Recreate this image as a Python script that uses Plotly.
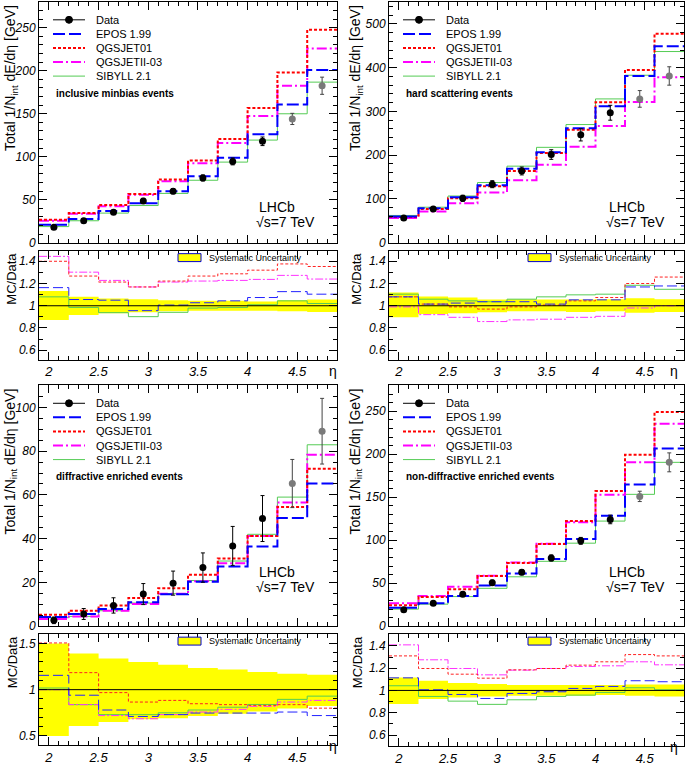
import plotly.graph_objects as go

W, H = 685, 769
FONT = "Liberation Sans, Arial, Helvetica, sans-serif"

# eta binning
edges = [1.9, 2.2, 2.5, 2.8, 3.1, 3.4, 3.7, 4.0, 4.3, 4.6, 4.9]
centers = [(a + b) / 2 for a, b in zip(edges[:-1], edges[1:])]
models = ["EPOS 1.99", "QGSJET01", "QGSJETII-03", "SIBYLL 2.1"]

# inclusive minbias events
mb_data = [18, 25.6, 35.6, 48.6, 60, 75.4, 94.6, 118, 144, 182.6]
mb_err = [1.5, 2, 2.5, 3, 3, 3.5, 4, 5, 6.5, 10]
mb_epos = [21, 27.6, 37, 46, 60, 77.3, 98.8, 126.3, 160.8, 201]
mb_q01 = [26.8, 34.5, 44, 56.7, 73.5, 95.7, 120.6, 156.6, 198, 247.7]
mb_q2 = [25.6, 33.7, 42.5, 55.9, 71.6, 92.6, 116, 147.4, 182.6, 225.9]
mb_sib = [18.8, 25.6, 34.5, 43.3, 57.4, 72.7, 93.8, 119.4, 150, 186.8]
mb_r_epos = [1.163, 1.056, 1.05, 0.956, 1.006, 1.027, 1.044, 1.074, 1.127, 1.104]
mb_r_q01 = [1.40, 1.267, 1.213, 1.169, 1.222, 1.267, 1.287, 1.32, 1.376, 1.353]
mb_r_q2 = [1.444, 1.302, 1.228, 1.169, 1.213, 1.222, 1.228, 1.237, 1.273, 1.24]
mb_r_sib = [1.08, 0.985, 0.938, 0.902, 0.941, 0.979, 0.985, 1.009, 1.044, 1.02]
mb_sys_hi = [1.133, 1.080, 1.065, 1.059, 1.050, 1.044, 1.044, 1.039, 1.050, 1.056]
mb_sys_lo = [0.873, 0.917, 0.932, 0.941, 0.950, 0.956, 0.956, 0.956, 0.950, 0.944]

# hard scattering events
hs_data = [56.4, 77.4, 101.5, 133.8, 164, 201.5, 246.6, 297, 328.6, 381]
hs_err = [4, 5, 7, 8, 9, 11, 14, 17, 19, 21]
hs_epos = [60, 79, 103.8, 131.6, 169, 206.8, 261.7, 312, 381, 448.9]
hs_q01 = [58.6, 77.4, 101.5, 129.3, 164, 205, 257.9, 321, 394.7, 477.4]
hs_q2 = [56.4, 71.4, 90.2, 115, 142.9, 178, 219.5, 267, 321.8, 378]
hs_sib = [62.4, 81.2, 106.8, 137.6, 175, 218, 270, 328.6, 382.7, 436.8]
hs_r_epos = [1.08, 1.015, 1.024, 1.036, 1.036, 1.015, 1.053, 1.053, 1.169, 1.178]
hs_r_q01 = [1.08, 1.015, 0.99, 0.97, 0.99, 1.006, 1.044, 1.074, 1.2, 1.258]
hs_r_q2 = [0.99, 0.92, 0.896, 0.858, 0.873, 0.879, 0.896, 0.905, 0.98, 1.0]
hs_r_sib = [1.104, 1.059, 1.044, 1.036, 1.059, 1.08, 1.098, 1.104, 1.184, 1.148]
hs_sys_hi = [1.119, 1.083, 1.074, 1.056, 1.059, 1.056, 1.056, 1.059, 1.068, 1.059]
hs_sys_lo = [0.896, 0.926, 0.932, 0.941, 0.950, 0.950, 0.944, 0.950, 0.938, 0.944]

# diffractive enriched events
df_data = [2.7, 5.6, 9.5, 14.7, 19.7, 26.8, 36.7, 49.2, 65.2, 89.1]
df_err = [1.5, 2.5, 3.5, 4.8, 5.5, 6.7, 8.9, 10.5, 11, 15]
df_epos = [4.2, 5.6, 7.9, 11, 14.6, 20.3, 27.3, 36.4, 49.5, 65.2]
df_q01 = [5.2, 7.1, 9.5, 12.9, 17.4, 23.5, 31, 41.2, 54.5, 72]
df_q2 = [3.3, 4.5, 7.1, 10.2, 14.8, 20.6, 28.8, 41.2, 56.5, 78.3]
df_sib = [3.9, 4.5, 7.1, 10.6, 14.9, 20.9, 29.8, 42, 59, 82.9]
df_r_epos = [1.155, 0.94, 0.78, 0.71, 0.73, 0.747, 0.747, 0.747, 0.758, 0.72]
df_r_q01 = [1.505, 1.184, 0.968, 0.866, 0.884, 0.848, 0.838, 0.83, 0.838, 0.8]
df_r_q2 = [1.0, 0.838, 0.72, 0.686, 0.73, 0.758, 0.787, 0.82, 0.866, 0.884]
df_r_sib = [1.018, 0.838, 0.73, 0.73, 0.75, 0.78, 0.81, 0.84, 0.895, 0.93]
df_sys_hi = [1.5, 1.39, 1.336, 1.30, 1.27, 1.235, 1.217, 1.19, 1.173, 1.162]
df_sys_lo = [0.5, 0.607, 0.65, 0.68, 0.69, 0.715, 0.74, 0.765, 0.795, 0.823]

# non-diffractive enriched events
nd_data = [19.2, 26.8, 37.2, 50.6, 62.9, 79.4, 99.3, 124.2, 151, 190.6]
nd_err = [1.5, 2, 2.5, 3, 3, 3.5, 4, 5, 6, 11]
nd_epos = [21.5, 26.8, 35.3, 47.5, 61.3, 78.2, 101.6, 128.5, 164.9, 206.7]
nd_q01 = [24.5, 34.1, 42.9, 58.3, 73.6, 95.5, 122.3, 157.2, 199.4, 249.2]
nd_q2 = [26.8, 35.3, 46, 58.6, 74, 96, 120.8, 153, 190.6, 235.4]
nd_sib = [19.9, 25.7, 34.5, 44.1, 57.5, 75.5, 96.6, 122.3, 153.4, 190.6]
nd_r_epos = [1.113, 1.006, 0.964, 0.928, 0.973, 0.988, 1.018, 1.036, 1.087, 1.078]
nd_r_q01 = [1.31, 1.197, 1.146, 1.11, 1.185, 1.197, 1.227, 1.257, 1.322, 1.31]
nd_r_q2 = [1.409, 1.275, 1.197, 1.14, 1.182, 1.197, 1.215, 1.221, 1.257, 1.23]
nd_r_sib = [1.042, 0.946, 0.904, 0.875, 0.916, 0.946, 0.958, 0.982, 1.024, 1.006]
nd_sys_hi = [1.116, 1.087, 1.066, 1.057, 1.048, 1.048, 1.048, 1.048, 1.054, 1.054]
nd_sys_lo = [0.878, 0.922, 0.937, 0.946, 0.952, 0.952, 0.952, 0.958, 0.952, 0.946]

n_black = 8  # last two bins drawn in grey

main_style = {
    "EPOS 1.99": dict(color="#0000ff", dash="12px,4px", width=2),
    "QGSJET01": dict(color="#ff0000", dash="3px,2px", width=2),
    "QGSJETII-03": dict(color="#ff00ff", dash="10px,3px,2px,3px", width=2),
    "SIBYLL 2.1": dict(color="#55cc55", dash="solid", width=1),
}
ratio_style = {
    "EPOS 1.99": dict(color="#2222ff", dash="10px,4px", width=1),
    "QGSJET01": dict(color="#ff2222", dash="3px,2px", width=1),
    "QGSJETII-03": dict(color="#ff33ff", dash="8px,2px,2px,2px", width=1),
    "SIBYLL 2.1": dict(color="#55cc55", dash="solid", width=1),
}
draw_order = ["SIBYLL 2.1", "QGSJETII-03", "QGSJET01", "EPOS 1.99"]

panels = [
    dict(label="inclusive minbias events", data=mb_data, err=mb_err,
         mc=dict(zip(models, [mb_epos, mb_q01, mb_q2, mb_sib])),
         ratio=dict(zip(models, [mb_r_epos, mb_r_q01, mb_r_q2, mb_r_sib])),
         hi=mb_sys_hi, lo=mb_sys_lo,
         col=(39, 337), main=(2, 245), rat=(253, 363),
         yr=[0, 280], dt=50, mdt=10, rr=[0.515, 1.495], rdt=0.2, rmdt=0.1,
         lhcb_y=199, ytx=11),
    dict(label="hard scattering events", data=hs_data, err=hs_err,
         mc=dict(zip(models, [hs_epos, hs_q01, hs_q2, hs_sib])),
         ratio=dict(zip(models, [hs_r_epos, hs_r_q01, hs_r_q2, hs_r_sib])),
         hi=hs_sys_hi, lo=hs_sys_lo,
         col=(389, 684), main=(2, 245), rat=(253, 363),
         yr=[0, 550], dt=100, mdt=20, rr=[0.515, 1.495], rdt=0.2, rmdt=0.1,
         lhcb_y=199, ytx=356),
    dict(label="diffractive enriched events", data=df_data, err=df_err,
         mc=dict(zip(models, [df_epos, df_q01, df_q2, df_sib])),
         ratio=dict(zip(models, [df_r_epos, df_r_q01, df_r_q2, df_r_sib])),
         hi=df_sys_hi, lo=df_sys_lo,
         col=(39, 337), main=(389, 632), rat=(640, 752),
         yr=[0, 110], dt=20, mdt=5, rr=[0.4, 1.6], rdt=0.5, rmdt=0.1,
         lhcb_y=587, ytx=11),
    dict(label="non-diffractive enriched events", data=nd_data, err=nd_err,
         mc=dict(zip(models, [nd_epos, nd_q01, nd_q2, nd_sib])),
         ratio=dict(zip(models, [nd_r_epos, nd_r_q01, nd_r_q2, nd_r_sib])),
         hi=nd_sys_hi, lo=nd_sys_lo,
         col=(389, 684), main=(389, 632), rat=(640, 753),
         yr=[0, 280], dt=50, mdt=10, rr=[0.5, 1.505], rdt=0.2, rmdt=0.1,
         lhcb_y=587, ytx=356),
]


def px(x):
    return x / W


def py(y):
    return 1 - y / H


def step(vals):
    return list(vals) + [vals[-1]]


tickfont = dict(family=FONT, size=12, color="black", style="italic")
axis_common = dict(showline=True, linecolor="black", linewidth=1, mirror="allticks",
                   ticks="inside", ticklen=8, tickwidth=1, tickcolor="black",
                   showgrid=False, zeroline=False, tickfont=tickfont)

fig = go.Figure()
layout = dict(width=W, height=H, margin=dict(l=0, r=0, t=0, b=0),
              paper_bgcolor="white", plot_bgcolor="white", showlegend=False,
              font=dict(family=FONT, color="black"))
shapes = []
annotations = []

for i, p in enumerate(panels):
    nm, nr = 2 * i + 1, 2 * i + 2
    xm, ym = ("x", "y") if nm == 1 else (f"x{nm}", f"y{nm}")
    xr, yr = f"x{nr}", f"y{nr}"
    l, r = p["col"]

    layout[f"xaxis{'' if nm == 1 else nm}"] = dict(
        domain=[px(l), px(r)], range=[1.9, 4.9], anchor=ym, showticklabels=False,
        dtick=0.5, tick0=2, minor=dict(dtick=0.1, ticks="inside", ticklen=4, tickcolor="black"),
        **axis_common)
    layout[f"yaxis{'' if nm == 1 else nm}"] = dict(
        domain=[py(p["main"][1]), py(p["main"][0])], range=p["yr"], anchor=xm,
        dtick=p["dt"], minor=dict(dtick=p["mdt"], ticks="inside", ticklen=4, tickcolor="black"),
        **axis_common)
    layout[f"xaxis{nr}"] = dict(
        domain=[px(l), px(r)], range=[1.9, 4.9], anchor=yr,
        dtick=0.5, tick0=2, minor=dict(dtick=0.1, ticks="inside", ticklen=4, tickcolor="black"),
        **{**axis_common, "tickfont": dict(tickfont, size=13)})
    layout[f"yaxis{nr}"] = dict(
        domain=[py(p["rat"][1]), py(p["rat"][0])], range=p["rr"], anchor=xr,
        dtick=p["rdt"], tick0=0, minor=dict(dtick=p["rmdt"], ticks="inside", ticklen=4, tickcolor="black"),
        **axis_common)

    # main panel: MC histograms
    for name in draw_order:
        fig.add_trace(go.Scatter(x=edges, y=step(p["mc"][name]), mode="lines", line_shape="hv",
                                 line=main_style[name], xaxis=xm, yaxis=ym, hoverinfo="skip"))
    # data points
    fig.add_trace(go.Scatter(x=centers[:n_black], y=p["data"][:n_black], mode="markers",
                             marker=dict(color="black", size=7),
                             error_y=dict(type="data", array=p["err"][:n_black], color="black",
                                          thickness=1, width=2),
                             xaxis=xm, yaxis=ym))
    fig.add_trace(go.Scatter(x=centers[n_black:], y=p["data"][n_black:], mode="markers",
                             marker=dict(color="#7a7a7a", size=7),
                             error_y=dict(type="data", array=p["err"][n_black:], color="#444444",
                                          thickness=1, width=2),
                             xaxis=xm, yaxis=ym))

    # ratio panel: systematic band
    fig.add_trace(go.Scatter(x=edges, y=step(p["lo"]), mode="lines", line_shape="hv",
                             line=dict(width=0, color="#ffff00"), xaxis=xr, yaxis=yr, hoverinfo="skip"))
    fig.add_trace(go.Scatter(x=edges, y=step(p["hi"]), mode="lines", line_shape="hv",
                             line=dict(width=0, color="#ffff00"), fill="tonexty", fillcolor="#ffff00",
                             xaxis=xr, yaxis=yr, hoverinfo="skip"))
    for name in draw_order:
        fig.add_trace(go.Scatter(x=edges, y=step(p["ratio"][name]), mode="lines", line_shape="hv",
                                 line=ratio_style[name], xaxis=xr, yaxis=yr, hoverinfo="skip"))
    shapes.append(dict(type="line", xref=f"{xr} domain", yref=yr, x0=0, x1=1, y0=1, y1=1,
                       line=dict(color="black", width=1)))

    # legend (drawn by hand, ROOT style)
    top = p["main"][0]
    x0, x1, tx = l + 14, l + 46, l + 55
    rows = ["Data"] + models
    for k, name in enumerate(rows):
        yc = top + 18 + 14.2 * k
        if name == "Data":
            shapes.append(dict(type="line", xref="paper", yref="paper", x0=px(x0), x1=px(x1),
                               y0=py(yc), y1=py(yc), line=dict(color="black", width=1)))
            xc = (x0 + x1) / 2
            shapes.append(dict(type="circle", xref="paper", yref="paper", x0=px(xc - 3.5),
                               x1=px(xc + 3.5), y0=py(yc + 3.5), y1=py(yc - 3.5),
                               fillcolor="black", line=dict(color="black", width=1)))
        else:
            shapes.append(dict(type="line", xref="paper", yref="paper", x0=px(x0), x1=px(x1),
                               y0=py(yc), y1=py(yc), line=main_style[name]))
        annotations.append(dict(text=name, x=px(tx), y=py(yc), xref="paper", yref="paper",
                                xanchor="left", yanchor="middle", showarrow=False,
                                font=dict(family=FONT, size=11, color="black")))
    annotations.append(dict(text=f"<b>{p['label']}</b>", x=px(l + 15), y=py(top + 92),
                            xref="paper", yref="paper", xanchor="left", yanchor="middle",
                            showarrow=False, font=dict(family=FONT, size=10, color="black")))

    # LHCb label
    ly = p["lhcb_y"]
    annotations.append(dict(text="LHCb", x=px(l + 218), y=py(ly), xref="paper", yref="paper",
                            xanchor="left", showarrow=False,
                            font=dict(family=FONT, size=14, color="black")))
    annotations.append(dict(text="√s=7 TeV", x=px(l + 215), y=py(ly + 15), xref="paper", yref="paper",
                            xanchor="left", showarrow=False,
                            font=dict(family=FONT, size=14, color="black")))

    # axis titles
    annotations.append(dict(text="Total 1/N<sub>int</sub> dE/dη [GeV]", textangle=-90,
                            x=px(p["ytx"]), y=py(top + 1), xref="paper", yref="paper",
                            xanchor="center", yanchor="top", showarrow=False,
                            font=dict(family=FONT, size=14, color="black")))
    annotations.append(dict(text="MC/Data", textangle=-90,
                            x=px(p["ytx"] + 1), y=py(p["rat"][0]), xref="paper", yref="paper",
                            xanchor="center", yanchor="top", showarrow=False,
                            font=dict(family=FONT, size=13, color="black")))
    annotations.append(dict(text="η", x=px(r - 4), y=py(p["rat"][1] + 11), xref="paper", yref="paper",
                            showarrow=False, font=dict(family=FONT, size=14, color="black")))

    # systematic uncertainty legend
    rt = p["rat"][0]
    shapes.append(dict(type="rect", xref="paper", yref="paper", x0=px(l + 139), x1=px(l + 162),
                       y0=py(rt + 11), y1=py(rt + 3), fillcolor="#ffff00",
                       line=dict(color="#0000cc", width=1)))
    annotations.append(dict(text="Systematic Uncertainty", x=px(l + 168), y=py(rt + 7),
                            xref="paper", yref="paper", xanchor="left", yanchor="middle",
                            showarrow=False, font=dict(family=FONT, size=9, color="black")))

layout["shapes"] = shapes
layout["annotations"] = annotations
fig.update_layout(**layout)

fig.write_html("out.html", config={"displayModeBar": False},
               post_script="document.body.style.margin = '0';")
